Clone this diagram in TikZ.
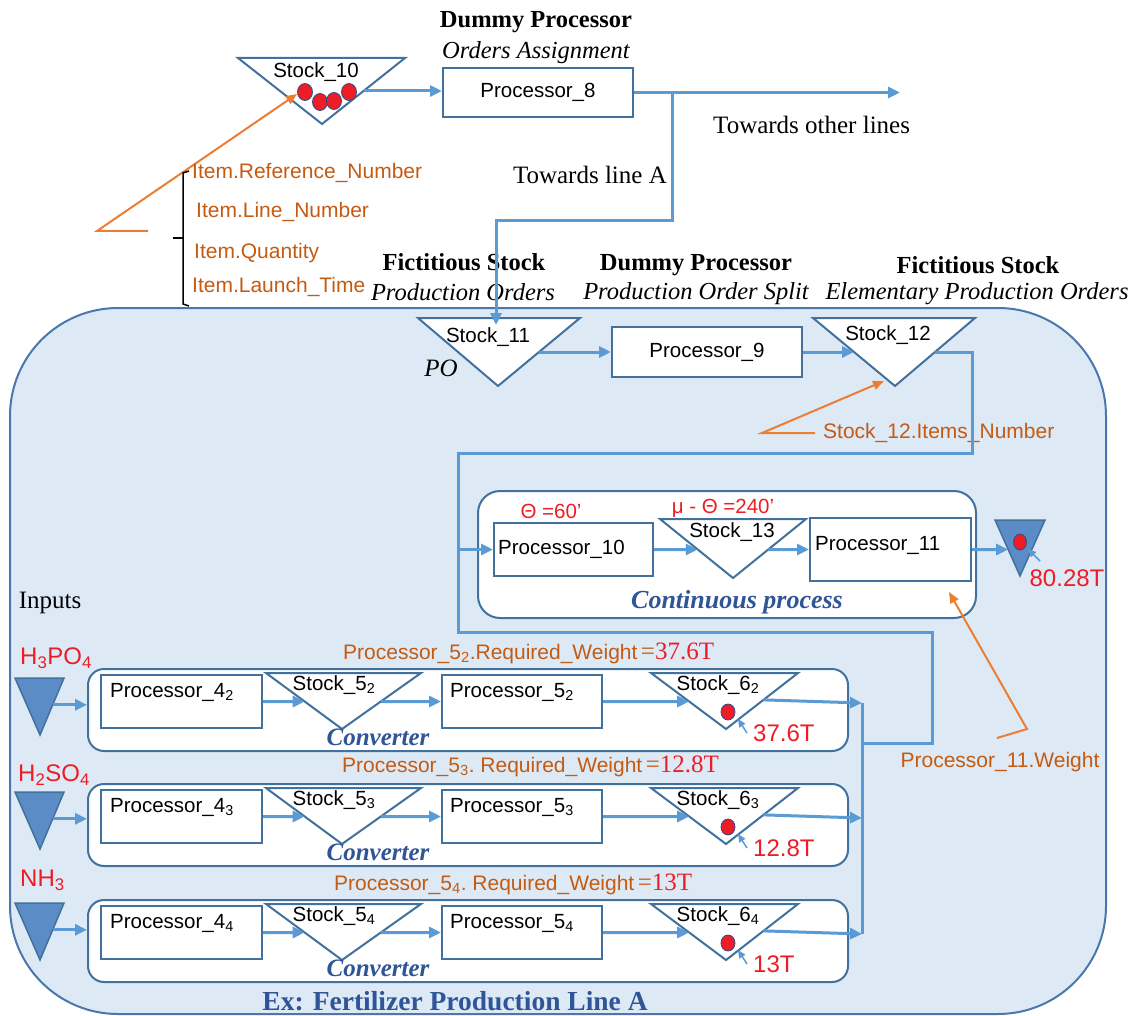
\documentclass[tikz,border=0pt]{standalone}
\usepackage{fontspec}
\setmainfont{Liberation Serif}
\setsansfont{Liberation Sans}
\usetikzlibrary{arrows.meta,calc}
\definecolor{framefill}{HTML}{DDEAF6}
\definecolor{framedraw}{HTML}{4A78AC}
\definecolor{boxdraw}{HTML}{41719C}
\definecolor{lineblue}{HTML}{5B9BD5}
\definecolor{trifill}{HTML}{5B8CC6}
\definecolor{myred}{HTML}{EE1C25}
\definecolor{otext}{HTML}{C55A11}
\definecolor{oline}{HTML}{ED7D31}
\definecolor{dblue}{HTML}{2F5597}
\definecolor{dotline}{HTML}{2B4F8C}
\newcommand\mysub[1]{\textsubscript{#1}}
\newcommand\fs[1]{\fontsize{#1}{#1}\selectfont}
\newcommand\stocktri[7][stocktri]{%
  \coordinate (#2-tl) at (#3,#5);
  \coordinate (#2-tr) at (#4,#5);
  \coordinate (#2-b) at (#6,#7);
  \draw[#1] (#2-tl) -- (#2-tr) -- (#2-b) -- cycle;}
\begin{document}
\begin{tikzpicture}[x=1pt,y=-1pt,
  linebox/.style={draw=framedraw, fill=framefill, line width=2pt, rounded corners=108pt, inner sep=0},
  grp/.style={draw=boxdraw, fill=white, line width=2pt, rounded corners=18pt, inner sep=0},
  pbox/.style={draw=boxdraw, fill=white, line width=2pt, inner sep=0},
  stocktri/.style={draw=boxdraw, fill=white, line width=2pt, line join=miter},
  intri/.style={draw=boxdraw, fill=trifill, line width=1.5pt, line join=miter},
  conn/.style={draw=lineblue, line width=3pt, -{Triangle[length=12pt,width=11pt]}},
  wire/.style={draw=lineblue, line width=3pt},
  thinarr/.style={draw=lineblue, line width=1.5pt, -{Triangle[length=8pt,width=7pt]}},
  oarr/.style={draw=oline, line width=2pt, -{Triangle[length=11pt,width=9pt]}},
  rdot/.style={draw=dotline, fill=myred, line width=0.8pt},
  lab/.style={font=\sffamily\fs{20.5}, inner sep=0},
  olab/.style={font=\sffamily\fs{21}, text=otext, inner sep=0},
  ttl/.style={font=\rmfamily\bfseries\fs{24.5}, inner sep=0},
  subttl/.style={font=\rmfamily\itshape\fs{24.5}, inner sep=0},
  sertxt/.style={font=\rmfamily\fs{25}, inner sep=0},
  redv/.style={font=\sffamily\fs{24}, text=myred, inner sep=0},
  redsm/.style={font=\sffamily\fs{20.5}, text=myred, inner sep=0},
  grpt/.style={font=\rmfamily\bfseries\itshape\fs{25}, text=dblue, inner sep=0},
]
\useasboundingbox (0,0) rectangle (1140,1016);

% big frame
\node[linebox, minimum width=1096pt, minimum height=706pt] (lineA) at (558,661) {};

% ---------- top part ----------
\node[ttl] (t1) at (536,22) {Dummy Processor};
\node[subttl] (t1s) at (536,53) {Orders Assignment};

\stocktri{s10}{238}{405}{58}{322}{124}
\node[lab] (s10l) at (316,72) {Stock\_10};
\draw[rdot] (305,92) ellipse [x radius=7.5pt, y radius=8.5pt];
\draw[rdot] (320,102) ellipse [x radius=7.5pt, y radius=8.5pt];
\draw[rdot] (334,101) ellipse [x radius=7.5pt, y radius=8.5pt];
\draw[rdot] (349,92) ellipse [x radius=7.5pt, y radius=8.5pt];

\node[pbox, lab, minimum width=190pt, minimum height=49pt] (p8) at (538,92.5) {Processor\_8};
\coordinate (s10r) at ($(s10-tr)!0.5!(s10-b)$);
\draw[conn] (s10r) -- (s10r -| p8.west);
\coordinate (other) at (900,92.5);
\coordinate (brk) at (672,92.5);
\draw[conn] (p8.east) -- (other);
\coordinate (s11in) at (496,325);

\node[sertxt, anchor=west] (tol) at (713,125) {Towards other lines};
\node[sertxt, anchor=east] (tla) at (667,175) {Towards line A};

% orange annotation of stock 10
\coordinate (oa1) at (148,231);
\coordinate (oa2) at (97,231);
\coordinate (oa3) at (297,94);
\draw[oarr] (oa1) -- (oa2) -- (oa3);
\draw[black, line width=1.5pt] (189,171) -- (183,173) -- (183,304) -- (189,306);
\draw[black, line width=1.5pt] (183,238) -- (173,238);
\node[olab, anchor=west] (i1) at (192,173) {Item.Reference\_Number};
\node[olab, anchor=west] (i2) at (196,212) {Item.Line\_Number};
\node[olab, anchor=west] (i3) at (194,253) {Item.Quantity};
\node[olab, anchor=west] (i4) at (192,287) {Item.Launch\_Time};

% titles above line A
\node[ttl] (t2) at (464,262) {Fictitious Stock};
\node[subttl] (t2s) at (463,292) {Production Orders};
\node[ttl] (t3) at (696,265) {Dummy Processor};
\node[subttl] (t3s) at (696,294) {Production Order Split};
\node[ttl] (t4) at (978,265) {Fictitious Stock};
\node[subttl] (t4s) at (977,294) {Elementary Production Orders};

% ---------- order split ----------
\stocktri{s11}{418}{580}{318}{498}{386}
\node[lab] (s11l) at (488,337) {Stock\_11};
\node[font=\rmfamily\itshape\fs{25}, inner sep=0] (po) at (441,368) {PO};
\draw[conn] (brk) -- ++(0,128.5) -| (s11in);

\node[pbox, lab, minimum width=190pt, minimum height=50pt] (p9) at (707,352) {Processor\_9};
\stocktri{s12}{813}{975}{318}{895}{386}
\node[lab] (s12l) at (888,335) {Stock\_12};

\draw[conn] ($(s11-tr)!0.5!(s11-b)$) -- (p9.west);
\draw[conn] (p9.east) -- ($(s12-tl)!0.5!(s12-b)$);

\coordinate (ob1) at (815,433);
\coordinate (ob2) at (762,433);
\coordinate (ob3) at (884,381);
\draw[oarr] (ob1) -- (ob2) -- (ob3);
\node[olab, anchor=west] (s12n) at (823,433) {Stock\_12.Items\_Number};

% loop wire
\coordinate (s12r) at ($(s12-tr)!0.5!(s12-b)$);
\coordinate (colj) at (862,743);
\draw[wire] (s12r) -- ++(37,0) |- (458,453) -- (458,632) -| (932,743) -- (colj);

% ---------- continuous process ----------
\node[grp, minimum width=498pt, minimum height=127pt, rounded corners=22pt] (cp) at (727,554.5) {};
\node[pbox, minimum width=159pt, minimum height=53pt] (p10) at (573.5,549.5) {};
\node[lab, anchor=west] (p10l) at (498,549) {Processor\_10};
\stocktri{s13}{660}{806}{519}{733}{578}
\node[lab] (s13l) at (732,532) {Stock\_13};
\node[pbox, minimum width=161pt, minimum height=63pt] (p11) at (890.5,549.5) {};
\node[lab, anchor=west] (p11l) at (815,545) {Processor\_11};
\node[redsm] (th1) at (551,511) {Θ =60’};
\node[redsm] (th2) at (723,508) {μ - Θ =240’};
\node[grpt, font=\rmfamily\bfseries\itshape\fs{26}] (cpt) at (737,602) {Continuous process};

\coordinate (j10) at (458,549.5);
\draw[conn] (j10) -- (p10.west);
\draw[conn] (p10.east) -- ($(s13-tl)!0.517!(s13-b)$);
\draw[conn] ($(s13-tr)!0.517!(s13-b)$) -- (p11.west);

\stocktri[intri]{out}{995}{1045}{520}{1020}{576}
\draw[rdot] (1020,542) ellipse [x radius=6.5pt, y radius=8pt];
\draw[conn] (p11.east) -- ($(out-tl)!0.527!(out-b)$);
\coordinate (oat) at (1040,561);
\coordinate (oah) at (1028,549);
\draw[thinarr] (oat) -- (oah);
\node[redv] (v80) at (1067,578) {80.28T};

\coordinate (oc1) at (997,738);
\coordinate (oc2) at (1027,729);
\coordinate (oc3) at (949,592);
\draw[oarr] (oc1) -- (oc2) -- (oc3);
\node[olab] (p11w) at (1000,762) {Processor\_11.Weight};

% ---------- inputs and converters ----------
\node[sertxt] (inp) at (50,603) {Inputs};
\node[redv, anchor=west] (h3po4) at (20,658) {H\mysub{3}PO\mysub{4}};
\node[redv, anchor=west] (h2so4) at (18,775) {H\mysub{2}SO\mysub{4}};
\node[redv, anchor=west] (nh3) at (20,880) {NH\mysub{3}};

\foreach \i/\dy/\ty/\ly/\lx/\sep/\val in {2/0/678/653/343/{.}/37.6T, 3/115/792/766/342/{.\ }/12.8T, 4/231/903/884/334/{.\ }/13T}{
  \node[grp, minimum width=760pt, minimum height=82pt, rounded corners=16pt] (cv\i) at (468,{710+\dy}) {};
  \stocktri[intri]{in\i}{15}{64}{\ty}{40}{\ty+57}
  \coordinate (inr\i) at ($(in\i-tr)!0.47!(in\i-b)$);
  \draw[conn] (inr\i) -- (inr\i -| cv\i.west);
  \node[pbox, minimum width=161pt, minimum height=53pt] (p4-\i) at (181.5,{701.5+\dy}) {};
  \node[lab, anchor=west] (p4l\i) at (110,{692+\dy}) {Processor\_4\mysub{\i}};
  \stocktri{s5-\i}{266}{421}{673+\dy}{342}{729+\dy}
  \node[lab] (s5l\i) at (334,{685+\dy}) {Stock\_5\mysub{\i}};
  \node[pbox, minimum width=160pt, minimum height=53pt] (p5-\i) at (522,{701.5+\dy}) {};
  \node[lab, anchor=west] (p5l\i) at (450,{692+\dy}) {Processor\_5\mysub{\i}};
  \stocktri{s6-\i}{651}{798}{673+\dy}{726}{729+\dy}
  \node[lab] (s6l\i) at (718,{685+\dy}) {Stock\_6\mysub{\i}};
  \draw[rdot] (728,{712+\dy}) ellipse [x radius=7pt, y radius=8pt];
  \coordinate (dt\i) at (747,{733+\dy});
  \coordinate (dh\i) at (738,{719+\dy});
  \draw[thinarr] (dt\i) -- (dh\i);
  \node[redv, anchor=west] (v\i) at (753,{733+\dy}) {\val};
  \node[grpt] (cvt\i) at (378,{737+\dy}) {Converter};
  \node[olab, anchor=west] (rw\i) at (\lx,\ly) {Processor\_5\mysub{\i}\sep Required\_Weight\,{\rmfamily\fs{25}=\textcolor{myred}{\val}}};
  \draw[conn] (p4-\i.east) -- ($(s5-\i-tl)!0.509!(s5-\i-b)$);
  \draw[conn] ($(s5-\i-tr)!0.509!(s5-\i-b)$) -- (p5-\i.west);
  \draw[conn] (p5-\i.east) -- ($(s6-\i-tl)!0.509!(s6-\i-b)$);
  \coordinate (s6r\i) at ($(s6-\i-tr)!0.48!(s6-\i-b)$);
  \coordinate (col\i) at (862,{703+\dy});
  \draw[conn] (s6r\i) -- (col\i);
}
\draw[wire] (col2) -- (col4);

\node[font=\rmfamily\bfseries\fs{27.5}, text=dblue, inner sep=0] (ex) at (455,1001) {Ex: Fertilizer Production Line A};
\end{tikzpicture}
\end{document}
